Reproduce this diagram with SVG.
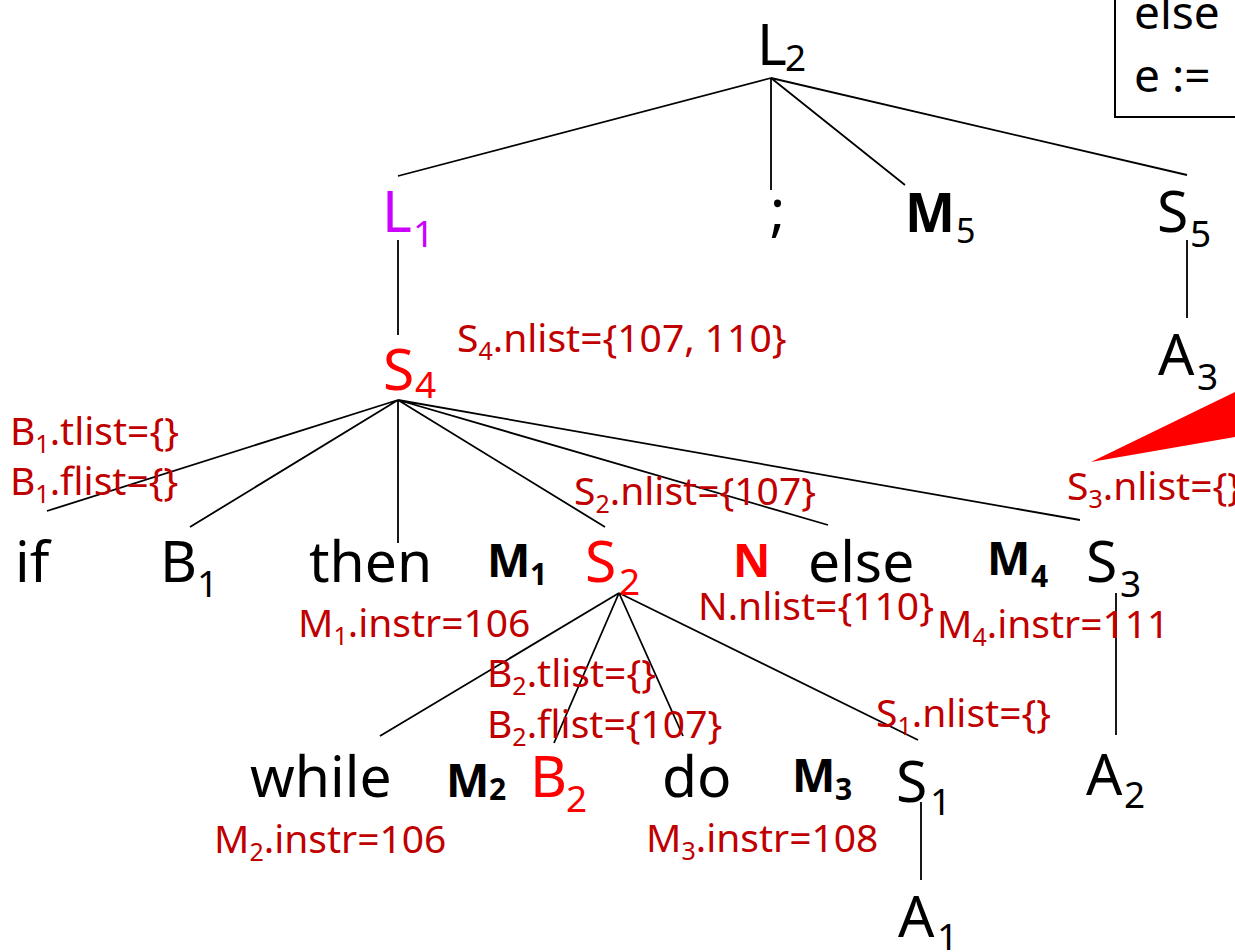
<svg xmlns="http://www.w3.org/2000/svg" width="1235" height="952" viewBox="0 0 1235 952">
<style>
.n{font-family:"Noto Sans","DejaVu Sans",sans-serif;font-size:57px;fill:#000}
.s{font-size:37px}
.m{font-family:"Noto Sans","DejaVu Sans",sans-serif;font-weight:bold;font-size:46px;fill:#000}
.ms{font-size:30px}
.r{fill:#FF0000}
.p{fill:#CC00FF}
.a{font-family:"Noto Sans","DejaVu Sans",sans-serif;font-size:39px;fill:#C00000}
.as{font-size:25px}
.e{stroke:#000;stroke-width:1.8;fill:none}
</style>
<rect width="1235" height="952" fill="#fff"/>
<g id="box">
<rect x="1115" y="-10" width="200" height="127" fill="#fff" stroke="#000" stroke-width="2"/>
<text class="n" x="1134" y="29" style="font-size:46px">else</text>
<text class="n" x="1134" y="92" style="font-size:46px">e :=</text>
</g>
<g id="connectors">
<path class="e" d="M771,78 L398,176 M771,78 L771,190 M771,78 L905,185 M771,78 L1187,175"/>
<path class="e" d="M398,240 L398,335 M1187,240 L1187,318"/>
<path class="e" d="M398,400 L47,511 M398,400 L190,527 M398,400 L398,543 M398,400 L605,527 M398,400 L828,525 M398,400 L1080,520"/>
<path class="e" d="M619,593 L380,736 M619,593 L554,743 M619,593 L683,736 M619,593 L918,740"/>
<path class="e" d="M1116,593 L1116,735 M921,802 L921,880"/>
</g>
<polygon id="pointer" points="1091,462 1235,392 1235,437" fill="#FF0000"/>
<g id="L2"><text class="n" x="757" y="65">L<tspan class="s" x="785" y="71">2</tspan></text></g>
<g id="L1"><text class="n p" x="382" y="232">L<tspan class="s" x="413" y="247">1</tspan></text></g>
<g id="semi"><text class="n" x="770" y="230">;</text></g>
<g id="M5"><text class="m" x="905" y="232" style="font-size:53px">M<tspan class="ms" x="956" y="243" style="font-size:34px;font-weight:normal">5</tspan></text></g>
<g id="S5"><text class="n" x="1157" y="232">S<tspan class="s" x="1190" y="247">5</tspan></text></g>
<g id="A3"><text class="n" x="1158" y="375">A<tspan class="s" x="1197" y="390">3</tspan></text></g>
<g id="S4"><text class="n r" x="383" y="390">S<tspan class="s" x="415" y="398">4</tspan></text></g>
<g id="if"><text class="n" x="15" y="582">if</text></g>
<g id="B1"><text class="n" x="160" y="582">B<tspan class="s" x="197" y="597">1</tspan></text></g>
<g id="then"><text class="n" x="309" y="582">then</text></g>
<g id="M1"><text class="m" x="487" y="577">M<tspan class="ms" x="530" y="585">1</tspan></text></g>
<g id="S2"><text class="n r" x="585" y="582">S<tspan class="s" x="619" y="595">2</tspan></text></g>
<g id="N"><text class="m" x="733" y="577" style="fill:#FF0000">N</text></g>
<g id="else"><text class="n" x="808" y="582">else</text></g>
<g id="M4"><text class="m" x="987" y="575">M<tspan class="ms" x="1031" y="587">4</tspan></text></g>
<g id="S3"><text class="n" x="1086" y="582">S<tspan class="s" x="1120" y="597">3</tspan></text></g>
<g id="while"><text class="n" x="250" y="797">while</text></g>
<g id="M2"><text class="m" x="446" y="797">M<tspan class="ms" x="489" y="800">2</tspan></text></g>
<g id="B2"><text class="n r" x="530" y="797">B<tspan class="s" x="566" y="812">2</tspan></text></g>
<g id="do"><text class="n" x="662" y="797">do</text></g>
<g id="M3"><text class="m" x="792" y="792">M<tspan class="ms" x="835" y="800">3</tspan></text></g>
<g id="S1"><text class="n" x="896" y="802">S<tspan class="s" x="930" y="815">1</tspan></text></g>
<g id="A2"><text class="n" x="1086" y="795">A<tspan class="s" x="1124" y="808">2</tspan></text></g>
<g id="A1"><text class="n" x="898" y="937">A<tspan class="s" x="937" y="950">1</tspan></text></g>
<g id="annotations">
<text class="a" x="457" y="352">S<tspan class="as" dy="8">4</tspan><tspan dy="-8">.nlist={107, 110}</tspan></text>
<text class="a" x="10" y="445">B<tspan class="as" dy="8">1</tspan><tspan dy="-8">.tlist={}</tspan></text>
<text class="a" x="10" y="495">B<tspan class="as" dy="8">1</tspan><tspan dy="-8">.flist={}</tspan></text>
<text class="a" x="574" y="505">S<tspan class="as" dy="8">2</tspan><tspan dy="-8">.nlist={107}</tspan></text>
<text class="a" x="1067" y="500">S<tspan class="as" dy="8">3</tspan><tspan dy="-8">.nlist={}</tspan></text>
<text class="a" x="298" y="637">M<tspan class="as" dy="8">1</tspan><tspan dy="-8">.instr=106</tspan></text>
<text class="a" x="698" y="620">N.nlist={110}</text>
<text class="a" x="937" y="638">M<tspan class="as" dy="8">4</tspan><tspan dy="-8">.instr=111</tspan></text>
<text class="a" x="487" y="687">B<tspan class="as" dy="8">2</tspan><tspan dy="-8">.tlist={}</tspan></text>
<text class="a" x="487" y="738">B<tspan class="as" dy="8">2</tspan><tspan dy="-8">.flist={107}</tspan></text>
<text class="a" x="876" y="727">S<tspan class="as" dy="8">1</tspan><tspan dy="-8">.nlist={}</tspan></text>
<text class="a" x="214" y="853">M<tspan class="as" dy="8">2</tspan><tspan dy="-8">.instr=106</tspan></text>
<text class="a" x="646" y="852">M<tspan class="as" dy="8">3</tspan><tspan dy="-8">.instr=108</tspan></text>
</g>
</svg>
